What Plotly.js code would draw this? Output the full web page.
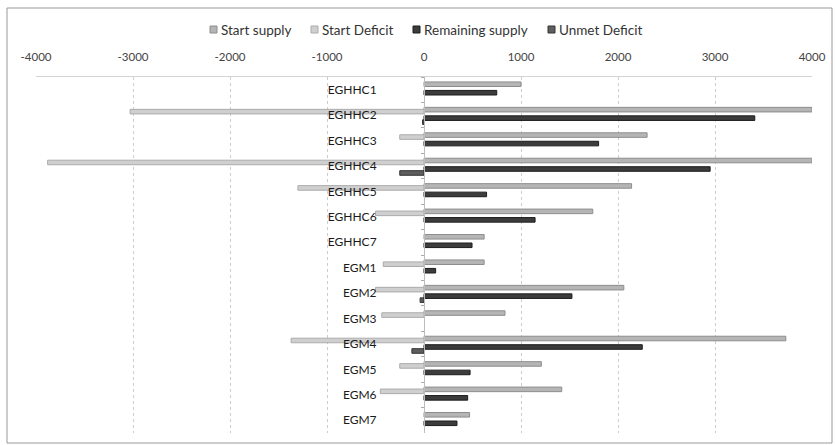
<!DOCTYPE html>
<html>
<head>
<meta charset="utf-8">
<script src="https://cdn.plot.ly/plotly-3.0.1.min.js"></script>
<style>
html,body{margin:0;padding:0;background:#fff;}
#chart{width:835px;height:445px;}
</style>
</head>
<body>
<div id="chart"></div>
<script>
var categories = ['EGHHC1','EGHHC2','EGHHC3','EGHHC4','EGHHC5','EGHHC6','EGHHC7','EGM1','EGM2','EGM3','EGM4','EGM5','EGM6','EGM7'];
var startSupply     = [1000, 4000, 2300, 4000, 2140, 1740, 620, 620, 2060, 835, 3730, 1210, 1420, 470];
var startDeficit    = [0, -3030, -250, -3880, -1300, -500, 0, -420, -500, -435, -1370, -250, -450, 0];
var remainingSupply = [750, 3410, 1800, 2950, 645, 1145, 495, 120, 1525, 0, 2250, 475, 450, 340];
var unmetDeficit    = [0, -15, 0, -250, 0, 0, 0, 0, -40, 0, -125, 0, 0, 0];
var seriesNames = ['Start supply', 'Start Deficit', 'Remaining supply', 'Unmet Deficit'];
var xTickVals = [-4000, -3000, -2000, -1000, 0, 1000, 2000, 3000, 4000];
var xTickLabels = ['-4000', '-3000', '-2000', '-1000', '0', '1000', '2000', '3000', '4000'];

var FONT = 'Lato, "Open Sans", sans-serif';
var fills = ['#b5b5b5', '#cfcfcf', '#3c3c3c', '#5e5e5e'];
var lines = ['#8e8e8e', '#ababab', '#1c1c1c', '#333333'];
var centers = [-0.216, -0.138, 0.118, 0.275];
var seriesValues = [startSupply, startDeficit, remainingSupply, unmetDeficit];
var barW = 0.18;

var data = seriesNames.map(function (name, i) {
  var vals = seriesValues[i];
  return {
    type: 'bar', orientation: 'h', name: name,
    y: categories, x: vals,
    width: barW, offset: centers[i] - barW / 2,
    marker: {
      color: fills[i],
      line: {color: lines[i], width: vals.map(function (v) { return v === 0 ? 0 : 1; })}
    },
    showlegend: false
  };
});

// legend drawn in pixel positions (converted to paper coords)
var plotL = 36, plotW = 776, plotB = 433, plotH = 356;
function px(x) { return (x - plotL) / plotW; }
function py(y) { return (plotB - y) / plotH; }
var legendMarkX = [210, 311, 413, 548];
var legendY = 29.5;
var shapes = [];
var annotations = [];
seriesNames.forEach(function (name, i) {
  var x0 = legendMarkX[i];
  shapes.push({
    type: 'rect', xref: 'paper', yref: 'paper',
    x0: px(x0), x1: px(x0 + 7), y0: py(legendY + 3.5), y1: py(legendY - 3.5),
    fillcolor: fills[i], line: {color: lines[i], width: 1}
  });
  annotations.push({
    xref: 'paper', yref: 'paper', x: px(x0 + 9), y: py(legendY),
    xanchor: 'left', yanchor: 'middle', showarrow: false, text: name,
    font: {family: FONT, size: 13.5, color: '#333333'}
  });
});
shapes.push({
  type: 'rect', xref: 'paper', yref: 'paper',
  x0: px(7), x1: px(832), y0: py(443), y1: py(8),
  line: {color: '#999999', width: 1}, fillcolor: 'rgba(0,0,0,0)', layer: 'below'
});

var layout = {
  width: 835, height: 445,
  margin: {l: 36, r: 23, t: 77, b: 12},
  paper_bgcolor: '#ffffff', plot_bgcolor: '#ffffff',
  font: {family: FONT, color: '#333333', size: 12},
  barmode: 'overlay',
  showlegend: false,
  xaxis: {
    side: 'top', range: [-4000, 4000],
    tickmode: 'array', tickvals: xTickVals, ticktext: xTickLabels,
    showgrid: true, gridcolor: '#cccccc', griddash: 'dot', gridwidth: 1,
    zeroline: false, showline: true, linecolor: '#d3d3d3', linewidth: 1,
    ticks: '', ticklabelstandoff: 10,
    tickfont: {family: FONT, size: 11.5, color: '#444444'},
    fixedrange: true
  },
  yaxis: {
    type: 'category', autorange: 'reversed',
    anchor: 'free', position: 0.5,
    showline: true, linecolor: '#bdbdbd', linewidth: 1,
    showgrid: false, zeroline: false,
    ticks: 'outside', tickson: 'boundaries', ticklen: 3, tickcolor: '#aaaaaa',
    ticklabelstandoff: 45,
    tickfont: {family: FONT, size: 12, color: '#1a1a1a'},
    fixedrange: true
  },
  shapes: shapes,
  annotations: annotations
};

Plotly.newPlot('chart', data, layout, {staticPlot: true, displayModeBar: false});
</script>
</body>
</html>
